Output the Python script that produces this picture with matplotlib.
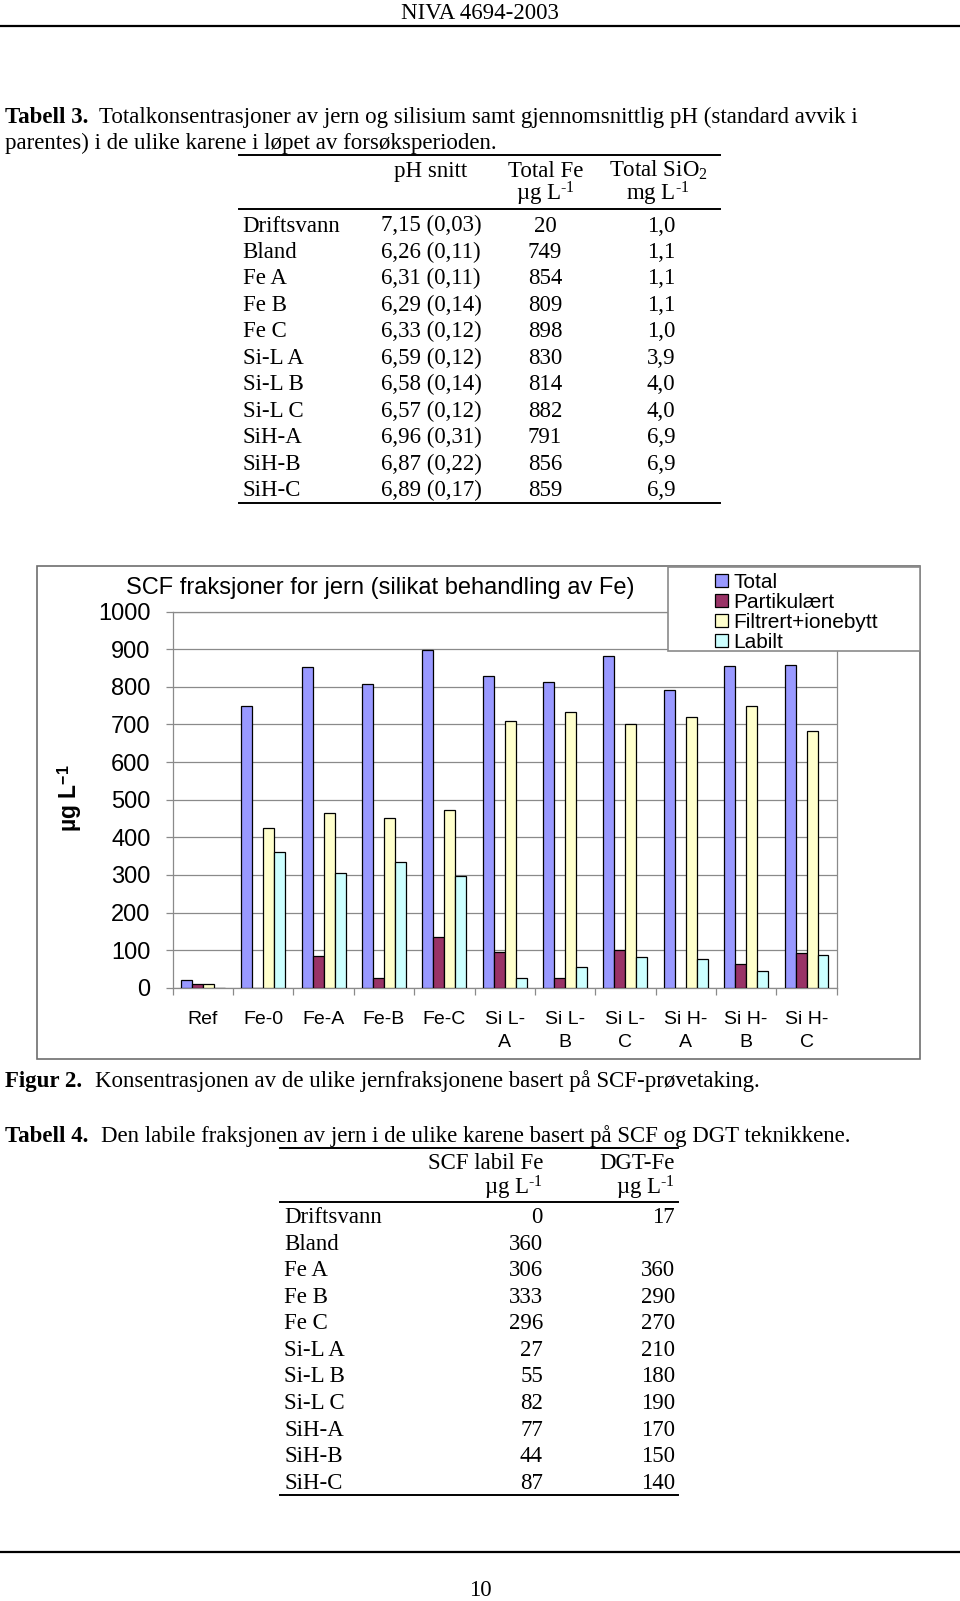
import numpy as np
import matplotlib
matplotlib.use('Agg')
import matplotlib.pyplot as plt
from matplotlib.patches import Rectangle
from matplotlib.lines import Line2D

plt.rcParams['font.family'] = ['Liberation Sans', 'DejaVu Sans']
plt.rcParams['mathtext.fontset'] = 'custom'
plt.rcParams['mathtext.rm'] = 'Liberation Serif'
plt.rcParams['mathtext.bf'] = 'Liberation Sans:bold'
plt.rcParams['mathtext.it'] = 'Liberation Serif:italic'

# ---------------- chart data ----------------
categories = ['Ref', 'Fe-0', 'Fe-A', 'Fe-B', 'Fe-C', 'Si L-\nA', 'Si L-\nB',
              'Si L-\nC', 'Si H-\nA', 'Si H-\nB', 'Si H-\nC']
series_names = ['Total', 'Partikulært', 'Filtrert+ionebytt', 'Labilt']
total = [20, 749, 854, 809, 898, 830, 814, 882, 791, 856, 859]
partikulaert = [10, 0, 83, 26, 134, 95, 26, 100, 0, 64, 91]
filtrert = [11, 426, 465, 452, 472, 709, 734, 701, 721, 748, 682]
labilt = [0, 360, 306, 333, 296, 27, 55, 82, 77, 44, 87]
series_colors = ['#9999FF', '#993366', '#FFFFCC', '#CCFFFF']
yticks = list(range(0, 1001, 100))
chart_title = 'SCF fraksjoner for jern (silikat behandling av Fe)'

# ---------------- table 3 data ----------------
t3_names = ['Driftsvann', 'Bland', 'Fe A', 'Fe B', 'Fe C', 'Si-L A', 'Si-L B',
            'Si-L C', 'SiH-A', 'SiH-B', 'SiH-C']
t3_ph = ['7,15 (0,03)', '6,26 (0,11)', '6,31 (0,11)', '6,29 (0,14)', '6,33 (0,12)',
         '6,59 (0,12)', '6,58 (0,14)', '6,57 (0,12)', '6,96 (0,31)', '6,87 (0,22)',
         '6,89 (0,17)']
t3_fe = ['20', '749', '854', '809', '898', '830', '814', '882', '791', '856', '859']
t3_sio2 = ['1,0', '1,1', '1,1', '1,1', '1,0', '3,9', '4,0', '4,0', '6,9', '6,9', '6,9']

# ---------------- table 4 data ----------------
t4_names = ['Driftsvann', 'Bland', 'Fe A', 'Fe B', 'Fe C', 'Si-L A', 'Si-L B',
            'Si-L C', 'SiH-A', 'SiH-B', 'SiH-C']
t4_scf = ['0', '360', '306', '333', '296', '27', '55', '82', '77', '44', '87']
t4_dgt = ['17', '', '360', '290', '270', '210', '180', '190', '170', '150', '140']

W, H = 960, 1601
fig = plt.figure(figsize=(9.6, 16.01), dpi=100)
fig.patch.set_facecolor('white')


def fx(x):
    return x / W


def fy(y):
    return 1 - y / H


SERIF = ['Liberation Serif', 'DejaVu Serif']
FS = 16.5
UNIT_SUP = r'$^{\text{-1}}$'


def stext(x, yc, s, **kw):
    kw.setdefault('family', SERIF)
    kw.setdefault('fontsize', FS)
    fig.text(fx(x), fy(yc + 7), s, va='baseline', **kw)


def hline(x0, x1, y, lw=1.4, color='black'):
    fig.add_artist(Line2D([fx(x0), fx(x1)], [fy(y), fy(y)],
                          transform=fig.transFigure, color=color, lw=lw))


# ---------------- page header ----------------
stext(480, 12, 'NIVA 4694-2003', ha='center')
hline(0, 960, 26, lw=1.6)

# ---------------- Tabell 3 ----------------
stext(5, 116, 'Tabell 3.', fontweight='bold')
stext(99, 116, 'Totalkonsentrasjoner av jern og silisium samt gjennomsnittlig pH (standard avvik i')
stext(5, 142, 'parentes) i de ulike karene i løpet av forsøksperioden.')
hline(239, 720, 155.5)
stext(431, 170, 'pH snitt', ha='center')
stext(546, 170, 'Total Fe', ha='center')
stext(658, 170, r'Total SiO$_{\mathrm{2}}$', ha='center')
stext(545, 194, 'µg L' + UNIT_SUP, ha='center')
stext(658, 194, 'mg L' + UNIT_SUP, ha='center')
hline(239, 720, 209.5)
for k in range(len(t3_names)):
    yc = 224.5 + k * 26.45
    stext(242.5, yc, t3_names[k])
    stext(431, yc, t3_ph[k], ha='center')
    stext(545, yc, t3_fe[k], ha='center')
    stext(661, yc, t3_sio2[k], ha='center')
hline(239, 720, 503)

# ---------------- chart ----------------
ax = fig.add_axes([fx(172.7), fy(987.7), (836.7 - 172.7) / W, (987.7 - 611.7) / H])
n = len(categories)
x = np.arange(n)
w = 0.182
for i, (vals, c) in enumerate(zip([total, partikulaert, filtrert, labilt], series_colors)):
    ax.bar(x + (i - 1.5) * w, vals, w, color=c, edgecolor='black', linewidth=0.9, zorder=3)

ax.set_xlim(-0.5, n - 0.5)
ax.set_ylim(0, 1000)
ax.set_yticks(yticks)
ax.yaxis.grid(True, color='#8a8a8a', lw=0.9)
ax.set_axisbelow(True)
for sp in ax.spines.values():
    sp.set_color('#8a8a8a')
    sp.set_linewidth(0.9)
ax.set_xticks(x)
ax.set_xticklabels(categories, fontsize=14, linespacing=1.42)
ax.set_xticks(np.arange(n + 1) - 0.5, minor=True)
ax.tick_params(axis='x', which='major', length=0, pad=17)
ax.tick_params(axis='x', which='minor', length=5, color='#8a8a8a', width=0.9)
ax.tick_params(axis='y', length=5, color='#8a8a8a', width=0.9, pad=11, labelsize=17)

fig.text(fx(380), fy(585 + 8.5), chart_title, ha='center', va='baseline', fontsize=17)
fig.text(fx(70), fy(798), r'µg L$^{\mathbf{-1}}$', rotation=90, ha='center', va='center',
         fontsize=16.5, fontweight='bold')

# chart area border
fig.add_artist(Rectangle((fx(37), fy(1059)), (920 - 37) / W, (1059 - 566) / H,
                         transform=fig.transFigure, fill=False, ec='#6e6e6e', lw=1.2))
# legend
fig.add_artist(Rectangle((fx(668), fy(651)), (920 - 668) / W, (651 - 567) / H,
                         transform=fig.transFigure, fc='white', ec='#8a8a8a', lw=1.2, zorder=5))
for i, (name, c) in enumerate(zip(series_names, series_colors)):
    yc = 581 + i * 19.8
    fig.add_artist(Rectangle((fx(714.5), fy(yc + 6.5)), 13.5 / W, 13 / H,
                             transform=fig.transFigure, fc=c, ec='black', lw=0.9, zorder=6))
    fig.text(fx(733), fy(yc + 7.5), name, va='baseline', fontsize=15, zorder=7)

# ---------------- Figur 2 caption ----------------
stext(5, 1080, 'Figur 2.', fontweight='bold')
stext(95, 1080, 'Konsentrasjonen av de ulike jernfraksjonene basert på SCF-prøvetaking.')

# ---------------- Tabell 4 ----------------
stext(5, 1135, 'Tabell 4.', fontweight='bold')
stext(101, 1135, 'Den labile fraksjonen av jern i de ulike karene basert på SCF og DGT teknikkene.')
hline(280, 678, 1147.5)
stext(543, 1162, 'SCF labil Fe', ha='right')
stext(675, 1162, 'DGT-Fe', ha='right')
stext(543, 1187, 'µg L' + UNIT_SUP, ha='right')
stext(675, 1187, 'µg L' + UNIT_SUP, ha='right')
hline(280, 678, 1202)
for k in range(len(t4_names)):
    yc = 1216 + k * 26.57
    stext(284, yc, t4_names[k])
    stext(543, yc, t4_scf[k], ha='right')
    if t4_dgt[k]:
        stext(675, yc, t4_dgt[k], ha='right')
hline(280, 678, 1495)

# ---------------- footer ----------------
hline(0, 960, 1552, lw=1.6)
stext(480, 1589, '10', ha='center')

fig.savefig('out.png', dpi=100, facecolor='white')
